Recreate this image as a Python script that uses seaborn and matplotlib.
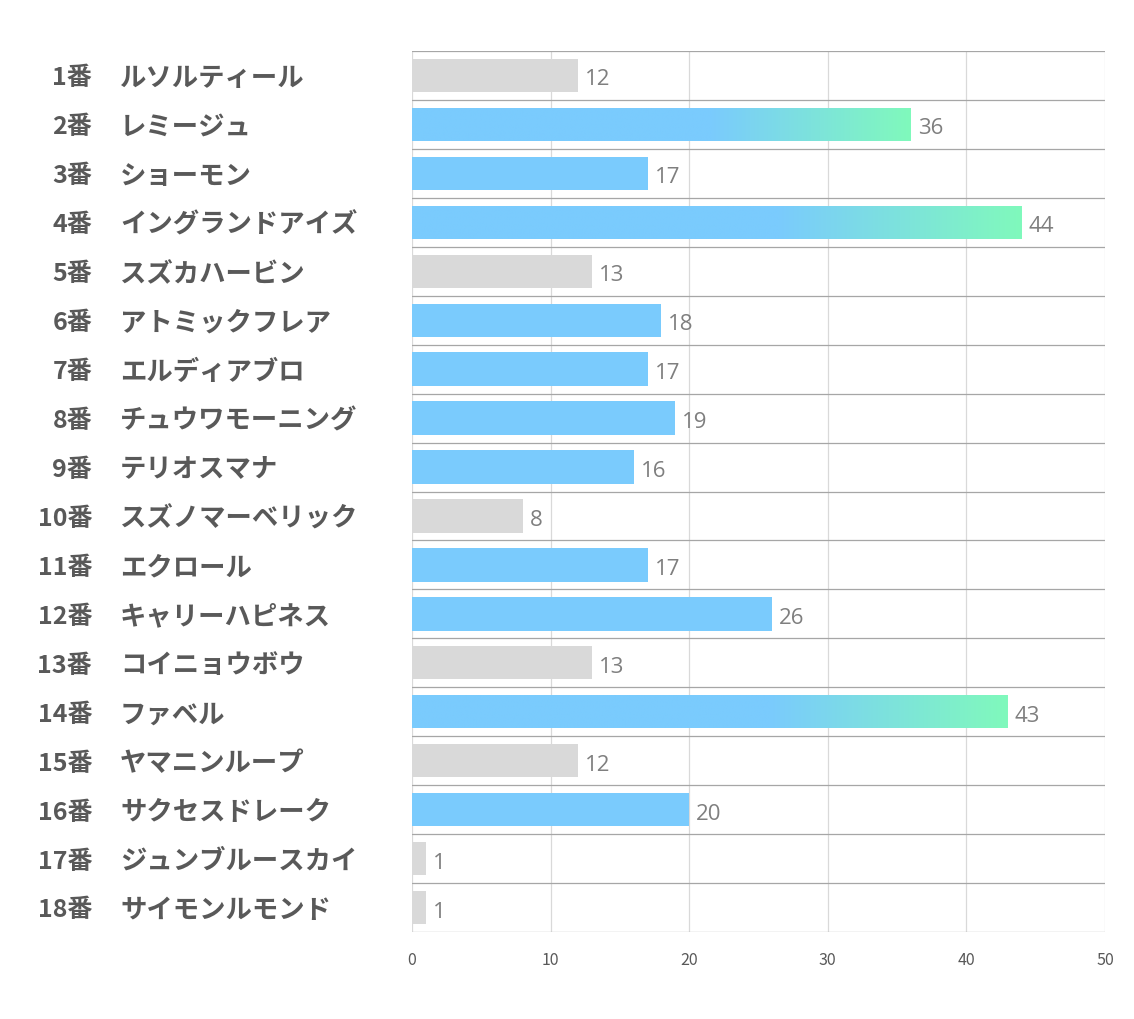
import numpy as np
import pandas as pd
import seaborn as sns
import matplotlib
import matplotlib.pyplot as plt
from matplotlib.colors import LinearSegmentedColormap
from matplotlib.transforms import blended_transform_factory

sns.set_style('white')
matplotlib.rcParams['font.family'] = ['Noto Sans CJK JP', 'DejaVu Sans']

numbers = ['1番', '2番', '3番', '4番', '5番', '6番', '7番', '8番', '9番',
           '10番', '11番', '12番', '13番', '14番', '15番', '16番', '17番', '18番']
horses = ['ルソルティール', 'レミージュ', 'ショーモン', 'イングランドアイズ', 'スズカハービン',
          'アトミックフレア', 'エルディアブロ', 'チュウワモーニング', 'テリオスマナ',
          'スズノマーベリック', 'エクロール', 'キャリーハピネス', 'コイニョウボウ',
          'ファベル', 'ヤマニンループ', 'サクセスドレーク', 'ジュンブルースカイ', 'サイモンルモンド']
scores = [12, 36, 17, 44, 13, 18, 17, 19, 16, 8, 17, 26, 13, 43, 12, 20, 1, 1]
# grey = low, blue = normal, top = gradient bar
group = ['low', 'top', 'mid', 'top', 'low', 'mid', 'mid', 'mid', 'mid',
         'low', 'mid', 'mid', 'low', 'top', 'low', 'mid', 'low', 'low']

blue = '#7acbfd'
green = '#80f9bc'
grey = '#d9d9d9'
colors = {'low': grey, 'mid': blue, 'top': blue}

df = pd.DataFrame({'num': numbers, 'horse': horses, 'score': scores, 'group': group})

fig = plt.figure(figsize=(11.34, 10.2), dpi=100)
ax = fig.add_axes([412 / 1134, 1 - 933 / 1020, (1105 - 412) / 1134, (933 - 52) / 1020])

sns.barplot(data=df, x='score', y='num', orient='h', width=0.68,
            color=blue, ax=ax, saturation=1)

cmap = LinearSegmentedColormap.from_list('bg', [blue, green])
for bar, g, val in zip(ax.patches, df.group, df.score):
    bar.set_facecolor(colors[g])
    bar.set_edgecolor('none')
    if g == 'top':
        y0 = bar.get_y()
        h = bar.get_height()
        t = np.linspace(0, 1, 400)
        ramp = np.clip((t - 0.6) / 0.4, 0, 1).reshape(1, -1)
        im = ax.imshow(ramp, cmap=cmap, aspect='auto', vmin=0, vmax=1,
                       extent=(0, val, y0 + h, y0), zorder=bar.get_zorder() + 0.1)
        im.set_clip_path(bar)
    ax.annotate(str(val), (val, bar.get_y() + bar.get_height() / 2),
                xytext=(5, -2.5), textcoords='offset points', va='center', ha='left',
                fontsize=16, color='#7f7f7f', family='Open Sans')

ax.set_xlim(0, 50)
ax.set_ylim(len(scores) - 0.5, -0.5)
ax.set_xticks(range(0, 51, 10))
ax.tick_params(axis='x', length=0, pad=14, labelsize=11.5, labelcolor='#595959')
ax.set_yticks([])
ax.set_xlabel('')
ax.set_ylabel('')

for x in range(10, 51, 10):
    ax.axvline(x, color='#d9d9d9', lw=0.9, zorder=0)
for i in range(len(scores) + 1):
    ax.axhline(i - 0.5, color='#a6a6a6', lw=0.9, zorder=0.5)
for s in ax.spines.values():
    s.set_visible(False)
ax.axvline(0, color='#d9d9d9', lw=0.9, zorder=0)

trans = blended_transform_factory(fig.transFigure, ax.transData)
for i, (n, h) in enumerate(zip(numbers, horses)):
    ax.text(92 / 1134, i + 0.04, n, transform=trans, ha='right', va='center',
            fontsize=18, fontweight='bold', color='#595959')
    ax.text(120 / 1134, i + 0.04, h, transform=trans, ha='left', va='center',
            fontsize=19, fontweight='bold', color='#595959')

fig.savefig('out.png', dpi=100, facecolor='white')
